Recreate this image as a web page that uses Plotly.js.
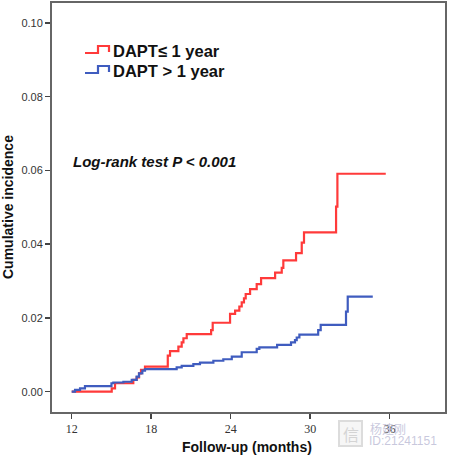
<!DOCTYPE html>
<html><head><meta charset="utf-8">
<script src="https://cdn.plot.ly/plotly-3.0.1.min.js"></script>
<style>html,body{margin:0;padding:0;background:#fff}#chart{width:449px;height:457px}</style>
</head><body><div id="chart"></div>
<script>
const redTimes = [12.0, 15.02, 15.27, 16.65, 16.9, 17.08, 17.23, 17.53, 19.25, 19.42, 20.05, 20.3, 20.43, 20.68, 22.52, 22.64, 23.95, 24.33, 24.65, 24.83, 25.0, 25.13, 25.46, 25.96, 26.29, 27.35, 27.85, 27.97, 28.93, 29.36, 29.53, 31.95, 32.05, 35.7];
const redValues = [0, 0.0009, 0.0023, 0.0032, 0.0039, 0.005, 0.0059, 0.0068, 0.0098, 0.011, 0.0122, 0.0134, 0.0145, 0.0156, 0.0167, 0.0187, 0.0211, 0.022, 0.0231, 0.0242, 0.0253, 0.0265, 0.0278, 0.0292, 0.0308, 0.0323, 0.0336, 0.0356, 0.0376, 0.0404, 0.0432, 0.0502, 0.0591, 0.0591];
const blueTimes = [12.0, 12.25, 12.63, 13.0, 15.0, 15.14, 15.9, 16.53, 16.9, 17.08, 17.33, 17.53, 19.92, 20.3, 21.18, 21.68, 22.69, 23.44, 24.08, 24.83, 25.96, 26.16, 27.5, 28.55, 28.85, 28.98, 29.18, 30.6, 30.79, 32.7, 32.83, 34.72];
const blueValues = [0, 0.0005, 0.0009, 0.0015, 0.0023, 0.0025, 0.0027, 0.0032, 0.0041, 0.005, 0.0057, 0.0061, 0.0066, 0.007, 0.0075, 0.0079, 0.0084, 0.0088, 0.0095, 0.0107, 0.0116, 0.012, 0.0127, 0.0134, 0.014, 0.0147, 0.0155, 0.0167, 0.0181, 0.0217, 0.0258, 0.0258];
const seriesNames = ["DAPT\u2264 1 year", "DAPT > 1 year"];
const xTicks = [12, 18, 24, 30, 36];
const yTicks = [0, 0.02, 0.04, 0.06, 0.08, 0.10];
const yTickText = ["0.00", "0.02", "0.04", "0.06", "0.08", "0.10"];
const xTitle = "Follow-up (months)";
const yTitle = "Cumulative incidence";
const noteText = "Log-rank test P < 0.001";

const RED = "#ff3a3a", BLUE = "#3f5cbf";
const L = 52, R = 4, T = 3, B = 45, W = 449, H = 457;
const pw = W - L - R, ph = H - T - B;
const px = x => (x - L) / pw;
const py = y => (H - B - y) / ph;

const traces = [
  {x: redTimes, y: redValues, type: "scatter", mode: "lines", line: {shape: "hv", color: RED, width: 2.2}, name: seriesNames[0], hoverinfo: "skip"},
  {x: blueTimes, y: blueValues, type: "scatter", mode: "lines", line: {shape: "hv", color: BLUE, width: 2.2}, name: seriesNames[1], hoverinfo: "skip"}
];

function stepIcon(x0, yc, color) {
  const p = `M ${px(x0)} ${py(yc + 2)} L ${px(x0 + 13)} ${py(yc + 2)} L ${px(x0 + 13)} ${py(yc - 5)} L ${px(x0 + 24)} ${py(yc - 5)} L ${px(x0 + 24)} ${py(yc + 1)}`;
  return {type: "path", xref: "paper", yref: "paper", path: p, line: {color: color, width: 2.2}};
}

const shapes = [
  stepIcon(85, 51, RED),
  stepIcon(85, 71, BLUE),
  {type: "rect", xref: "paper", yref: "paper", x0: px(339), x1: px(362), y0: py(446), y1: py(421), line: {color: "#dcdcdc", width: 2}, fillcolor: "rgba(240,240,240,0.6)"}
];

const annotations = [
  {xref: "paper", yref: "paper", x: px(111), y: py(51), text: "<b>" + seriesNames[0] + "</b>", showarrow: false, xanchor: "left", yanchor: "middle", font: {family: "Liberation Sans, Arial", size: 16.5, color: "#111"}},
  {xref: "paper", yref: "paper", x: px(111), y: py(71), text: "<b>" + seriesNames[1] + "</b>", showarrow: false, xanchor: "left", yanchor: "middle", font: {family: "Liberation Sans, Arial", size: 16.5, color: "#111"}},
  {xref: "paper", yref: "paper", x: px(71), y: py(161), text: "<b><i>" + noteText + "</i></b>", showarrow: false, xanchor: "left", yanchor: "middle", font: {family: "Liberation Sans, Arial", size: 15, color: "#111"}},
  {xref: "paper", yref: "paper", x: px(247), y: py(447), text: "<b>" + xTitle + "</b>", showarrow: false, xanchor: "center", yanchor: "middle", font: {family: "Liberation Sans, Arial", size: 14, color: "#111"}},
  {xref: "paper", yref: "paper", x: px(8), y: py(207), text: "<b>" + yTitle + "</b>", textangle: -90, showarrow: false, xanchor: "center", yanchor: "middle", font: {family: "Liberation Sans, Arial", size: 14, color: "#111"}},
  {xref: "paper", yref: "paper", x: px(350.5), y: py(433.5), text: "信", showarrow: false, xanchor: "center", yanchor: "middle", font: {family: "Noto Sans CJK SC", size: 16, color: "#d4d4d4"}},
  {xref: "paper", yref: "paper", x: px(368), y: py(428), text: "杨建刚", showarrow: false, xanchor: "left", yanchor: "middle", font: {family: "Noto Sans CJK SC", size: 12, color: "rgba(190,190,215,0.85)"}},
  {xref: "paper", yref: "paper", x: px(367), y: py(441), text: "ID:21241151", showarrow: false, xanchor: "left", yanchor: "middle", font: {family: "Liberation Sans, Arial", size: 12, color: "rgba(190,190,215,0.85)"}}
];

const layout = {
  width: W, height: H,
  margin: {l: L, r: R, t: T, b: B},
  paper_bgcolor: "#fff", plot_bgcolor: "#fff",
  showlegend: false,
  xaxis: {range: [10.513, 40.17], tickvals: xTicks, ticktext: xTicks.map(String), ticks: "outside", ticklen: 5, tickwidth: 1.5, tickcolor: "#444",
          showline: true, linecolor: "#666", linewidth: 2, mirror: true, showgrid: false, zeroline: false,
          tickfont: {family: "Liberation Serif, Times New Roman", size: 12, color: "#333"}},
  yaxis: {range: [-0.0055, 0.1054], tickvals: yTicks, ticktext: yTickText, ticks: "outside", ticklen: 5, tickwidth: 1.5, tickcolor: "#444",
          showline: true, linecolor: "#666", linewidth: 2, mirror: true, showgrid: false, zeroline: false,
          tickfont: {family: "Liberation Sans, Arial", size: 11, color: "#333"}},
  shapes: shapes,
  annotations: annotations
};

Plotly.newPlot("chart", traces, layout, {staticPlot: true, displayModeBar: false});
</script>
</body></html>
